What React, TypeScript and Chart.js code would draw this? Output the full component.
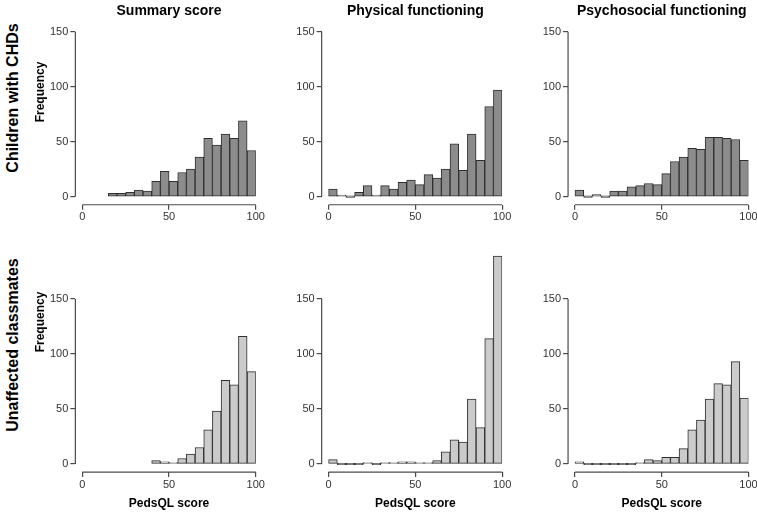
import React, { useEffect, useRef } from 'react';
import { Chart, registerables } from 'chart.js';

Chart.register(...registerables);

// ---- Data (histogram counts, 5-point bins) ----
const BIN_WIDTH = 5;
const X_TICKS = [0, 50, 100];
const Y_TICKS = [0, 50, 100, 150];

const columnTitles = ['Summary score', 'Physical functioning', 'Psychosocial functioning'];
const rowTitles = ['Children with CHDs', 'Unaffected classmates'];
const yAxisTitle = 'Frequency';
const xAxisTitle = 'PedsQL score';

// Children with CHDs
const summaryCHDStart = 15;
const summaryCHD = [3, 3, 4, 6, 5, 14, 23, 14, 22, 25, 36, 53, 47, 57, 53, 69, 42];
const physicalCHDStart = 0;
const physicalCHD = [7, 1, 0, 4, 10, 1, 10, 7, 13, 15, 11, 20, 17, 25, 48, 24, 57, 33, 82, 97];
const psychosocialCHDStart = 0;
const psychosocialCHD = [6, 0, 2, 0, 5, 5, 9, 10, 12, 11, 21, 32, 36, 44, 43, 54, 54, 53, 52, 33];

// Unaffected classmates
const summaryClassStart = 40;
const summaryClass = [3, 2, 1, 5, 9, 15, 31, 48, 76, 72, 116, 84];
const physicalClassStart = 0;
const physicalClass = [4, 0, 0, 0, 1, 0, 1, 1, 2, 2, 1, 1, 3, 11, 22, 20, 59, 33, 114, 189];
const psychosocialClassStart = 0;
const psychosocialClass = [2, 0, 0, 0, 0, 0, 0, 1, 4, 3, 6, 6, 14, 31, 40, 59, 73, 72, 93, 60];

// ---- Styles / layout ----
const FONT = "'Liberation Sans', Arial, Helvetica, sans-serif";
const DARK_FILL = '#8c8c8c';
const LIGHT_FILL = '#cbcbcb';
const BAR_BORDER = '#2f2f2f';
const AXIS_COLOR = '#4a4a4a';
const TICK_COLOR = '#333333';

const COL_X0 = [82.3, 328.6, 575];
const ROW_Y0 = [196.7, 464];
const X_PX = 1.735;
const Y_PX = 1.1;
const X_MIN = -4;
const X_MAX = 100;
const Y_MIN = -7.3;
const ROW_Y_MAX = [156, 195];
const Y_AXIS_W = 34;
const X_AXIS_H = 24;

const panels = [
  { row: 0, col: 0, start: summaryCHDStart, counts: summaryCHD },
  { row: 0, col: 1, start: physicalCHDStart, counts: physicalCHD },
  { row: 0, col: 2, start: psychosocialCHDStart, counts: psychosocialCHD },
  { row: 1, col: 0, start: summaryClassStart, counts: summaryClass },
  { row: 1, col: 1, start: physicalClassStart, counts: physicalClass },
  { row: 1, col: 2, start: psychosocialClassStart, counts: psychosocialClass },
];

const axisLines = {
  id: 'axisLines',
  afterDraw(chart: any) {
    const { ctx, chartArea } = chart;
    const x = chart.scales.x;
    const y = chart.scales.y;
    ctx.save();
    ctx.strokeStyle = AXIS_COLOR;
    ctx.lineWidth = 1.2;
    ctx.beginPath();
    ctx.moveTo(chartArea.left, y.getPixelForValue(Y_TICKS[0]));
    ctx.lineTo(chartArea.left, y.getPixelForValue(Y_TICKS[Y_TICKS.length - 1]));
    ctx.stroke();
    ctx.beginPath();
    ctx.moveTo(x.getPixelForValue(X_TICKS[0]), chartArea.bottom);
    ctx.lineTo(x.getPixelForValue(X_TICKS[X_TICKS.length - 1]), chartArea.bottom);
    ctx.stroke();
    ctx.restore();
  },
};

function Panel({ row, col, start, counts }: { row: number; col: number; start: number; counts: number[] }) {
  const ref = useRef<HTMLCanvasElement | null>(null);

  const x0 = COL_X0[col];
  const y0 = ROW_Y0[row];
  const yMax = ROW_Y_MAX[row];
  const chartLeft = x0 + X_MIN * X_PX;
  const chartRight = x0 + X_MAX * X_PX;
  const chartTop = y0 - yMax * Y_PX;
  const chartBottom = y0 - Y_MIN * Y_PX;
  const canvasLeft = Math.floor(chartLeft - Y_AXIS_W - 6);
  const canvasTop = Math.floor(chartTop - 12);
  const canvasRight = Math.ceil(chartRight + 14);
  const canvasBottom = Math.ceil(chartBottom + X_AXIS_H + 4);
  const width = canvasRight - canvasLeft;
  const height = canvasBottom - canvasTop;
  const pad = {
    left: chartLeft - Y_AXIS_W - canvasLeft,
    right: canvasRight - chartRight,
    top: chartTop - canvasTop,
    bottom: canvasBottom - chartBottom - X_AXIS_H,
  };

  useEffect(() => {
    if (!ref.current) return;
    const fill = row === 0 ? DARK_FILL : LIGHT_FILL;
    const tickFont = { size: 11, family: FONT };
    const chart = new Chart(ref.current, {
      type: 'bar',
      data: {
        datasets: [
          {
            data: counts.map((c, i) => ({ x: start + BIN_WIDTH * (i + 0.5), y: c })),
            backgroundColor: fill,
            borderColor: BAR_BORDER,
            borderWidth: 1,
            borderSkipped: false,
            barPercentage: 1,
            categoryPercentage: 1,
            minBarLength: 1.5,
          } as any,
        ],
      },
      options: {
        animation: false,
        responsive: false,
        maintainAspectRatio: false,
        layout: { padding: pad },
        plugins: { legend: { display: false }, tooltip: { enabled: false }, title: { display: false } },
        scales: {
          x: {
            type: 'linear',
            min: X_MIN,
            max: X_MAX,
            offset: false,
            grid: { display: true, drawOnChartArea: false, drawTicks: true, tickLength: 5, lineWidth: 1.2, color: AXIS_COLOR, tickColor: AXIS_COLOR, offset: false },
            border: { display: false },
            ticks: { autoSkip: false, maxRotation: 0, padding: 1, color: TICK_COLOR, font: tickFont },
            afterBuildTicks: (s: any) => {
              s.ticks = X_TICKS.map((v) => ({ value: v }));
            },
            afterFit: (s: any) => {
              s.height = X_AXIS_H;
            },
          },
          y: {
            type: 'linear',
            min: Y_MIN,
            max: yMax,
            grid: { display: true, drawOnChartArea: false, drawTicks: true, tickLength: 5, lineWidth: 1.2, color: AXIS_COLOR, tickColor: AXIS_COLOR },
            border: { display: false },
            ticks: { autoSkip: false, padding: 2, color: TICK_COLOR, font: tickFont },
            afterBuildTicks: (s: any) => {
              s.ticks = Y_TICKS.map((v) => ({ value: v }));
            },
            afterFit: (s: any) => {
              s.width = Y_AXIS_W;
            },
          },
        } as any,
      },
      plugins: [axisLines],
    });
    return () => chart.destroy();
  }, []);

  return (
    <canvas
      ref={ref}
      width={width}
      height={height}
      style={{ position: 'absolute', left: canvasLeft, top: canvasTop, width, height }}
    />
  );
}

function Label({ text, x, y, size, rotate }: { text: string; x: number; y: number; size: number; rotate?: boolean }) {
  return (
    <div
      style={{
        position: 'absolute',
        left: x,
        top: y,
        transform: `translate(-50%, -50%)${rotate ? ' rotate(-90deg)' : ''}`,
        whiteSpace: 'nowrap',
        fontFamily: FONT,
        fontWeight: 'bold',
        fontSize: size,
        color: '#000',
        lineHeight: 1,
      }}
    >
      {text}
    </div>
  );
}

export default function App() {
  const panelCenter = (col: number) => COL_X0[col] + (X_MAX * X_PX) / 2;
  return (
    <div style={{ position: 'absolute', left: 0, top: 0, width: 757, height: 513, background: '#fff', overflow: 'hidden' }}>
      {panels.map((p) => (
        <Panel key={`${p.row}-${p.col}`} {...p} />
      ))}
      {columnTitles.map((t, i) => (
        <Label key={t} text={t} x={panelCenter(i)} y={10} size={14} />
      ))}
      <Label text={rowTitles[0]} x={13} y={98} size={16} rotate />
      <Label text={rowTitles[1]} x={13} y={345} size={16} rotate />
      <Label text={yAxisTitle} x={40} y={92} size={12} rotate />
      <Label text={yAxisTitle} x={40} y={322} size={12} rotate />
      {[0, 1, 2].map((c) => (
        <Label key={`xl${c}`} text={xAxisTitle} x={panelCenter(c)} y={503} size={12} />
      ))}
    </div>
  );
}
